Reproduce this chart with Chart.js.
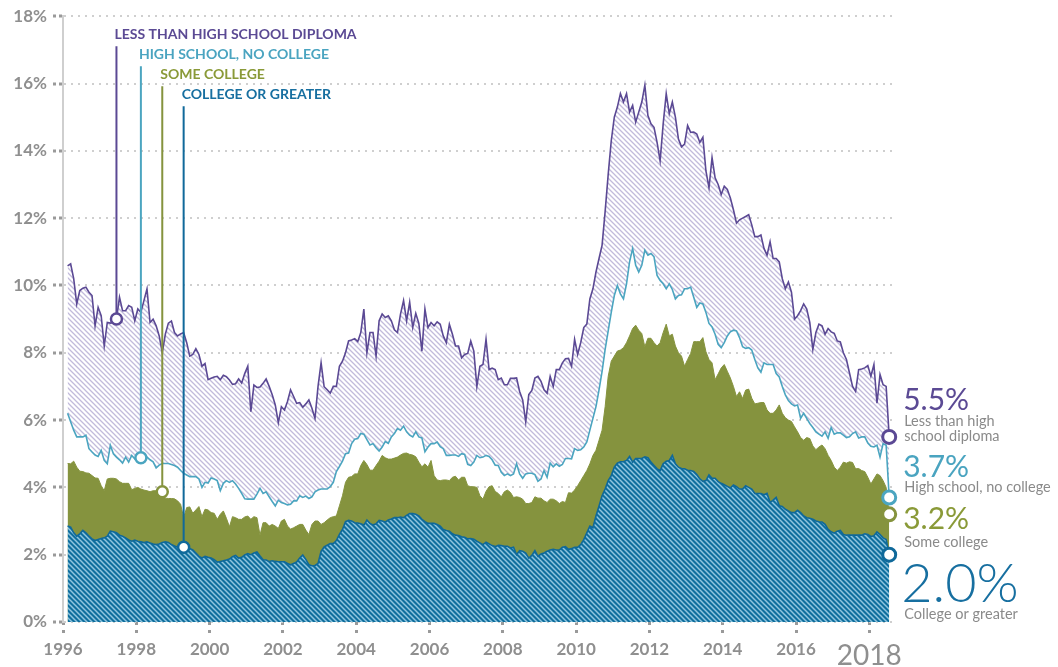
<!DOCTYPE html>
<html>
<head>
<meta charset="utf-8">
<title>Unemployment rate by education</title>
<script src="https://cdn.jsdelivr.net/npm/chart.js@4.4.1/dist/chart.umd.min.js"></script>
<style>
  html, body { margin: 0; padding: 0; background: #fff; }
  #wrap { width: 1058px; height: 667px; position: relative; }
</style>
</head>
<body>
<div id="wrap"><canvas id="chart" width="1058" height="667"></canvas></div>
<script>
// monthly unemployment rate (%), Feb 1996 .. Jul 2018
var firstMonth = { year: 1996, month: 2 };
var yearTicks = [1996, 1998, 2000, 2002, 2004, 2006, 2008, 2010, 2012, 2014, 2016, 2018];
var yTicks = [0, 2, 4, 6, 8, 10, 12, 14, 16, 18];

var lessThanHS = [
  10.58,10.64,10.2,9.45,9.85,9.92,9.95,9.8,9.7,8.8,9.35,9.1,
  8.2,8.9,8.88,8.9,9.0,9.65,9.25,9.25,9.4,9.35,8.95,9.3,
  9.2,9.55,9.9,8.9,9.0,8.8,8.5,8.0,8.55,8.88,8.94,8.6,
  8.5,8.56,8.6,8.3,7.9,7.95,8.12,7.95,7.6,7.68,7.2,7.24,
  7.28,7.3,7.2,7.33,7.29,7.19,7.06,7.08,7.22,7.1,7.38,7.6,
  6.25,7.04,6.97,6.98,7.09,7.22,7.0,6.75,6.45,5.92,6.4,6.3,
  6.55,6.9,6.7,6.5,6.52,6.38,6.48,6.6,6.35,6.05,7.0,7.7,
  6.99,6.9,6.8,7.0,7.0,7.6,7.75,8.0,8.35,8.38,8.42,8.33,
  8.6,9.3,8.0,8.6,8.6,7.9,8.95,9.15,9.05,9.1,8.95,8.68,
  8.6,9.15,9.55,8.95,9.5,8.75,9.17,8.87,8.05,9.3,8.75,8.9,
  8.8,8.92,8.85,8.5,8.3,8.85,8.55,8.2,8.2,7.85,7.95,7.98,
  8.35,8.05,7.0,7.6,7.65,8.4,7.5,7.54,7.5,7.2,7.25,7.05,
  7.05,7.24,7.24,7.25,6.85,6.6,5.95,6.76,6.88,7.25,7.3,7.15,
  6.9,6.8,7.3,7.0,7.5,7.5,7.7,7.82,7.83,7.6,8.4,7.95,
  8.3,8.75,8.85,9.6,9.9,10.4,10.8,11.2,12.2,13.3,14.3,15.0,
  15.3,15.7,15.45,15.7,15.15,15.35,14.85,15.15,15.45,15.95,15.05,14.8,
  14.7,14.25,13.7,14.8,15.7,15.1,15.45,15.0,14.35,14.12,14.2,14.75,
  14.55,14.56,14.5,14.25,14.4,13.4,12.9,13.8,13.2,13.0,12.7,12.95,
  12.85,12.6,12.25,11.85,11.95,12.0,12.05,12.1,11.8,11.45,11.45,11.5,
  11.1,10.9,11.3,10.8,10.8,10.7,10.2,9.9,10.1,9.8,9.0,9.1,
  9.25,9.45,9.3,8.9,8.1,8.6,8.85,8.8,8.55,8.72,8.62,8.58,
  8.35,8.32,8.0,7.8,7.4,7.0,6.85,7.5,7.52,7.55,7.62,7.3,
  7.65,6.5,7.35,7.05,7.0,5.5
];

var highSchool = [
  6.2,5.95,5.7,5.5,5.5,5.5,5.55,5.15,5.05,4.96,4.92,5.1,
  4.8,4.7,5.25,5.0,4.9,4.82,4.72,4.9,4.75,4.95,4.85,4.93,
  4.88,4.87,4.9,4.82,4.76,4.58,4.66,4.71,4.71,4.71,4.68,4.65,
  4.6,4.5,4.42,4.37,4.32,4.32,4.32,4.25,4.0,4.15,4.13,4.28,
  4.25,4.2,3.9,4.12,4.2,4.15,4.2,4.1,3.97,3.82,3.66,3.65,
  3.65,3.65,3.8,3.97,3.82,3.87,3.72,3.58,3.45,3.62,3.55,3.52,
  3.48,3.5,3.6,3.6,3.75,3.7,3.74,3.67,3.72,3.87,3.92,3.95,
  3.95,3.95,4.02,4.15,4.47,4.62,4.78,5.0,5.02,5.3,5.43,5.45,
  5.6,5.58,5.42,5.26,5.3,5.18,5.08,5.2,5.36,5.31,5.5,5.6,
  5.75,5.7,5.82,5.65,5.55,5.5,5.65,5.5,5.47,5.06,5.2,5.3,
  5.3,5.35,5.21,5.15,4.95,4.95,4.96,4.96,4.92,5.0,4.98,4.68,
  4.65,4.75,4.95,4.88,4.9,4.95,4.92,4.82,4.66,4.65,4.45,4.35,
  4.4,4.35,4.4,4.7,4.4,4.27,4.4,4.42,4.42,4.38,4.18,4.25,
  4.5,4.3,4.72,4.61,4.7,4.63,4.68,4.86,4.86,4.85,5.15,5.1,
  5.12,5.2,5.35,5.7,6.05,6.4,6.9,7.45,8.1,8.65,9.2,9.7,
  10.0,9.75,9.6,10.05,10.7,11.1,10.6,10.4,10.6,11.05,10.9,10.95,
  10.85,10.3,10.15,10.05,9.9,10.05,9.88,9.6,9.7,9.72,9.9,9.9,
  9.95,9.65,9.35,9.48,9.45,9.2,8.87,8.77,8.55,8.25,8.15,8.3,
  8.5,8.62,8.67,8.65,8.45,8.18,8.13,8.15,8.08,7.8,7.55,7.42,
  7.7,7.65,7.65,7.65,7.38,7.28,7.0,6.75,6.58,6.48,6.42,6.45,
  6.05,6.2,6.05,5.9,5.78,5.65,5.58,5.52,5.65,5.46,5.78,5.58,
  5.62,5.62,5.55,5.48,5.5,5.6,5.65,5.47,5.5,5.5,5.32,5.22,
  5.2,5.25,4.9,5.3,5.25,3.7
];

var someCollege = [
  4.71,4.7,4.78,4.6,4.48,4.47,4.43,4.42,4.35,4.28,4.27,4.05,
  3.9,4.25,4.27,4.27,4.25,4.17,4.12,4.12,4.12,3.93,3.97,4.0,
  3.95,3.92,3.9,3.87,3.9,3.9,3.87,3.87,3.68,3.67,3.67,3.66,
  3.6,3.5,3.1,3.4,3.42,3.23,3.33,3.43,3.13,3.35,3.33,3.25,
  3.23,3.05,3.2,3.3,3.08,2.83,3.13,3.1,3.05,3.05,3.12,3.15,
  3.05,3.13,3.1,2.58,2.95,2.95,2.85,2.9,2.85,2.78,3.0,3.05,
  2.85,2.76,2.8,2.85,2.9,2.9,2.73,2.6,2.9,3.0,3.0,2.9,
  2.95,3.03,3.1,3.13,3.15,3.45,3.75,4.15,4.3,4.32,4.4,4.4,
  4.65,4.8,4.68,4.51,4.51,4.65,4.78,4.95,4.88,4.84,4.84,4.87,
  4.9,4.96,5.01,5.02,4.98,4.96,4.91,4.75,4.61,4.7,4.6,4.8,
  4.35,4.22,4.2,4.22,4.22,4.2,4.3,4.33,4.22,4.3,4.3,4.05,
  4.02,4.02,4.0,3.75,3.65,3.88,4.02,4.05,3.88,3.82,3.72,3.87,
  3.92,3.85,3.7,3.72,3.7,3.65,3.52,3.52,3.55,3.72,3.68,3.68,
  3.6,3.55,3.65,3.65,3.6,3.52,3.58,3.55,3.84,3.83,3.92,4.05,
  4.2,4.35,4.5,4.7,4.95,5.1,5.4,5.7,6.4,7.3,7.75,7.9,
  8.05,8.08,8.15,8.3,8.5,8.72,8.82,8.67,8.57,8.18,8.43,8.43,
  8.3,8.2,8.3,8.6,8.85,8.5,8.55,8.2,8.0,7.9,7.6,7.8,
  7.98,8.33,8.33,8.33,8.45,8.03,7.8,7.7,7.2,7.37,7.55,7.65,
  7.45,7.25,7.0,6.7,6.84,6.64,6.89,6.92,6.65,6.48,6.5,6.52,
  6.52,6.3,6.2,6.2,6.3,6.45,6.2,6.07,6.0,5.96,5.8,5.65,
  5.48,5.4,5.48,5.45,5.23,5.12,5.2,5.26,5.15,4.95,4.8,4.6,
  4.5,4.6,4.75,4.72,4.76,4.74,4.55,4.56,4.5,4.47,4.3,4.1,
  4.25,4.4,4.35,4.2,4.0,3.2
];

var collegeGrad = [
  2.85,2.82,2.65,2.55,2.62,2.72,2.65,2.55,2.47,2.42,2.45,2.48,
  2.5,2.55,2.7,2.68,2.65,2.58,2.55,2.5,2.44,2.4,2.43,2.4,
  2.38,2.36,2.38,2.35,2.32,2.3,2.32,2.36,2.38,2.36,2.3,2.26,
  2.22,2.24,2.22,2.2,2.18,2.14,2.05,1.95,1.9,1.95,1.92,1.9,
  1.85,1.78,1.8,1.82,1.84,1.87,1.94,1.98,1.9,1.92,1.99,2.03,
  2.0,2.05,2.08,1.96,1.85,1.84,1.8,1.82,1.8,1.79,1.79,1.79,
  1.74,1.7,1.74,1.78,1.9,1.99,1.86,1.7,1.67,1.68,1.74,2.1,
  2.23,2.28,2.33,2.33,2.42,2.6,2.75,2.98,3.02,3.0,2.95,2.94,
  2.92,2.88,3.03,2.93,2.88,2.92,3.02,3.0,2.97,3.03,3.06,3.1,
  3.1,3.12,3.1,3.17,3.22,3.22,3.2,3.15,3.05,2.98,2.93,2.93,
  2.93,2.9,2.85,2.75,2.72,2.7,2.62,2.58,2.57,2.53,2.52,2.47,
  2.48,2.46,2.4,2.35,2.3,2.37,2.32,2.27,2.24,2.28,2.27,2.25,
  2.25,2.2,2.22,2.0,2.12,2.1,2.05,1.9,1.98,2.12,1.95,2.02,
  2.05,2.1,2.14,2.16,2.14,2.14,2.22,2.24,2.16,2.18,2.22,2.22,
  2.3,2.45,2.65,2.85,2.8,3.15,3.45,3.75,3.95,4.2,4.35,4.6,
  4.72,4.76,4.76,4.8,4.92,4.75,4.86,4.86,4.86,4.91,4.88,4.75,
  4.65,4.55,4.5,4.7,4.78,4.8,4.95,4.7,4.6,4.56,4.55,4.51,
  4.5,4.47,4.38,4.25,4.18,4.2,4.37,4.27,4.27,4.17,4.12,4.08,
  4.03,3.98,4.07,4.02,3.95,3.95,4.05,4.0,3.95,3.82,3.82,3.82,
  3.78,3.82,3.55,3.62,3.7,3.45,3.43,3.35,3.3,3.25,3.25,3.32,
  3.25,3.15,3.1,3.08,3.05,3.0,2.98,2.97,2.9,2.75,2.68,2.64,
  2.7,2.72,2.6,2.58,2.58,2.58,2.58,2.58,2.58,2.62,2.6,2.54,
  2.56,2.68,2.6,2.5,2.45,2.0
];

// callout labels (top left) and end labels (right side)
var calloutNames = ['COLLEGE OR GREATER', 'SOME COLLEGE', 'HIGH SCHOOL, NO COLLEGE', 'LESS THAN HIGH SCHOOL DIPLOMA'];
var calloutIndex = [38, 31, 24, 16];
var endValueText = ['2.0%', '3.2%', '3.7%', '5.5%'];
var endNames = [['College or greater'], ['Some college'], ['High school, no college'], ['Less than high', 'school diploma']];

var colors = ['#10699a', '#85933e', '#4ba5c0', '#5b4994'];
var textColors = ['#176fa0', '#8a9a38', '#4aa4c0', '#5b4a94'];

var monthX = lessThanHS.map(function (_, i) {
  var m = firstMonth.month - 1 + i;
  return firstMonth.year + Math.floor(m / 12) + ((m % 12) + 0.5) / 12;
});

function pts(arr) {
  return arr.map(function (v, i) { return { x: monthX[i], y: v }; });
}

function hatch(bg, fg, size, lw) {
  var c = document.createElement('canvas');
  c.width = size; c.height = size;
  var g = c.getContext('2d');
  g.fillStyle = bg;
  g.fillRect(0, 0, size, size);
  g.strokeStyle = fg;
  g.lineWidth = lw;
  g.beginPath();
  g.moveTo(-1, -1); g.lineTo(size + 1, size + 1);
  g.moveTo(-1, size - 1); g.lineTo(1, size + 1);
  g.moveTo(size - 1, -1); g.lineTo(size + 1, 1);
  g.stroke();
  return g.createPattern(c, 'repeat');
}

var ctx = document.getElementById('chart').getContext('2d');
var bluePattern = hatch('#0e6e9d', '#90c5df', 5, 1.5);
var purplePattern = hatch('#ffffff', '#c2bbdb', 5, 1.3);

Chart.defaults.font.family = 'Lato, "Open Sans", sans-serif';

var annotate = {
  id: 'annotate',
  afterDatasetsDraw: function (chart) {
    var c = chart.ctx;
    var top = chart.chartArea.top;
    c.save();
    // left callouts with leader lines
    for (var d = 3; d >= 0; d--) {
      var meta = chart.getDatasetMeta(d);
      var p = meta.data[calloutIndex[d]];
      var ly = top + 18 + (3 - d) * 20;
      c.strokeStyle = colors[d];
      c.lineWidth = 2;
      c.beginPath();
      c.moveTo(p.x, ly + 12);
      c.lineTo(p.x, p.y - 6);
      c.stroke();
      c.font = 'bold 14px Lato, sans-serif';
      c.fillStyle = textColors[d];
      c.textAlign = 'left';
      c.textBaseline = 'middle';
      c.fillText(calloutNames[d], p.x - 2, ly);
    }
    // markers
    for (var d2 = 3; d2 >= 0; d2--) {
      var m = chart.getDatasetMeta(d2);
      var a = m.data[calloutIndex[d2]];
      var e = m.data[m.data.length - 1];
      c.fillStyle = '#fff';
      c.strokeStyle = colors[d2];
      c.lineWidth = 2.5;
      c.beginPath(); c.arc(a.x, a.y, 5.5, 0, Math.PI * 2); c.fill(); c.stroke();
      c.lineWidth = 3;
      c.beginPath(); c.arc(e.x, e.y, 6.5, 0, Math.PI * 2); c.fill(); c.stroke();
    }
    // right side end labels
    var last = chart.getDatasetMeta(0).data;
    var x0 = last[last.length - 1].x + 14;
    var valueBase = [602, 529, 477, 410];
    var nameBase = [[619], [547], [492], [426, 441]];
    c.textAlign = 'left';
    c.textBaseline = 'alphabetic';
    for (var s = 0; s < 4; s++) {
      c.fillStyle = textColors[s];
      c.font = s === 0 ? '300 54px Lato, sans-serif' : '400 30px Lato, sans-serif';
      c.fillText(endValueText[s], x0 - (s === 0 ? 2 : 0), valueBase[s]);
      c.fillStyle = '#8a8a8a';
      c.font = '400 14.5px Lato, sans-serif';
      for (var j = 0; j < endNames[s].length; j++) {
        c.fillText(endNames[s][j], x0 + 1, nameBase[s][j]);
      }
    }
    c.restore();
  }
};

new Chart(ctx, {
  type: 'line',
  data: {
    datasets: [
      { label: 'College or greater', data: pts(collegeGrad), borderColor: colors[0], borderWidth: 1.6,
        backgroundColor: bluePattern, fill: 'origin' },
      { label: 'Some college', data: pts(someCollege), borderColor: colors[1], borderWidth: 1,
        backgroundColor: colors[1], fill: 'origin' },
      { label: 'High school, no college', data: pts(highSchool), borderColor: colors[2], borderWidth: 1.6,
        fill: false },
      { label: 'Less than high school diploma', data: pts(lessThanHS), borderColor: colors[3], borderWidth: 1.6,
        backgroundColor: purplePattern, fill: '-1' }
    ]
  },
  options: {
    responsive: false,
    animation: false,
    events: [],
    layout: { padding: { top: 16, right: 163, bottom: 0, left: 0 } },
    elements: { point: { radius: 0, hoverRadius: 0 }, line: { tension: 0 } },
    plugins: { legend: { display: false }, tooltip: { enabled: false } },
    scales: {
      x: {
        type: 'linear',
        min: 1996,
        max: 2018.7,
        afterBuildTicks: function (s) { s.ticks = yearTicks.map(function (v) { return { value: v }; }); },
        afterFit: function (s) { s.height = 45; },
        border: { display: false },
        grid: {
          drawOnChartArea: false,
          drawTicks: true,
          tickLength: 11,
          tickWidth: 3,
          tickColor: '#9a9a9a',
          tickBorderDash: [3, 5]
        },
        ticks: {
          maxRotation: 0,
          autoSkip: false,
          padding: 6,
          color: '#8f8f8f',
          font: function (c) {
            if (c.tick && c.tick.value === 2018) return { size: 28, weight: 'normal' };
            return { size: 17, weight: 'bold' };
          },
          callback: function (v) { return String(v); }
        }
      },
      y: {
        min: 0,
        max: 18,
        afterBuildTicks: function (s) { s.ticks = yTicks.map(function (v) { return { value: v }; }); },
        afterFit: function (s) { s.width = 63; },
        border: { display: true, dash: [2, 5], color: '#cfcfcf', width: 2 },
        grid: {
          color: '#cfcfcf',
          lineWidth: 2,
          borderDash: [2, 5],
          tickLength: 10,
          tickWidth: 3,
          tickColor: '#9a9a9a',
          tickBorderDash: [3, 3]
        },
        ticks: {
          padding: 6,
          color: '#8f8f8f',
          font: { size: 17, weight: 'bold' },
          callback: function (v) { return v + '%'; }
        }
      }
    }
  },
  plugins: [annotate]
});
</script>
</body>
</html>
